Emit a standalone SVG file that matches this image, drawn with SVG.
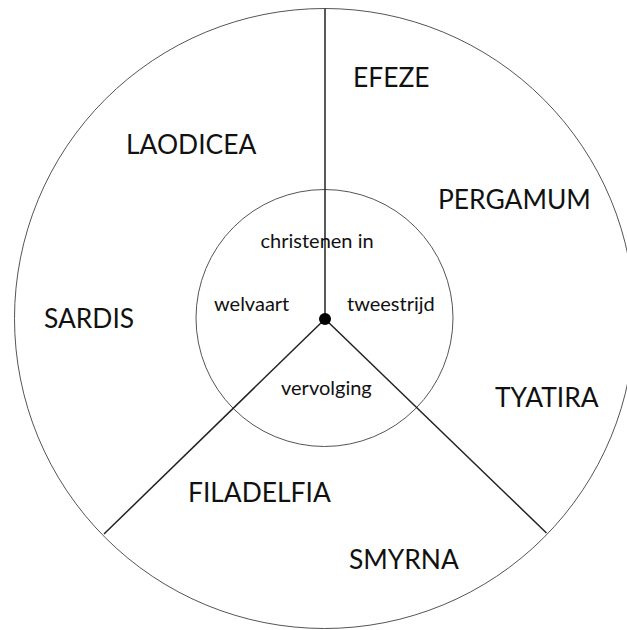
<svg xmlns="http://www.w3.org/2000/svg" width="627" height="630" viewBox="0 0 627 630">
<style>
.bg{fill:#fff}
.ring{fill:none;stroke:#555;stroke-width:1}
.spoke{stroke:#222;stroke-width:1.5;fill:none}
.big{font-family:Lato,"Liberation Sans",sans-serif;font-size:26.4px;fill:#111}
.small{font-family:Lato,"Liberation Sans",sans-serif;font-size:20px;fill:#111}
</style>
<rect class="bg" x="0" y="0" width="627" height="630"/>
<g id="outer-circle"><circle class="ring" cx="324.5" cy="318.5" r="310"/></g>
<g id="inner-circle"><circle class="ring" cx="324.5" cy="318" r="128.5"/></g>
<g id="connectors">
<line class="spoke" x1="325" y1="8.5" x2="325" y2="319"/>
<line class="spoke" x1="325" y1="319" x2="104" y2="534"/>
<line class="spoke" x1="325" y1="319" x2="546.5" y2="533"/>
</g>
<g id="center"><circle cx="325" cy="319" r="6" fill="#000"/></g>
<g id="efeze"><text class="big" x="353" y="87">EFEZE</text></g>
<g id="laodicea"><text class="big" x="126" y="154">LAODICEA</text></g>
<g id="pergamum"><text class="big" x="438" y="209">PERGAMUM</text></g>
<g id="sardis"><text class="big" x="44" y="328">SARDIS</text></g>
<g id="tyatira"><text class="big" x="495" y="407">TYATIRA</text></g>
<g id="filadelfia"><text class="big" x="188" y="502">FILADELFIA</text></g>
<g id="smyrna"><text class="big" x="349" y="569">SMYRNA</text></g>
<g id="christenen-in"><text class="small" x="260.5" y="248">christenen in</text></g>
<g id="welvaart"><text class="small" x="214" y="311">welvaart</text></g>
<g id="tweestrijd"><text class="small" x="347" y="311">tweestrijd</text></g>
<g id="vervolging"><text class="small" x="281" y="394.5">vervolging</text></g>
</svg>
